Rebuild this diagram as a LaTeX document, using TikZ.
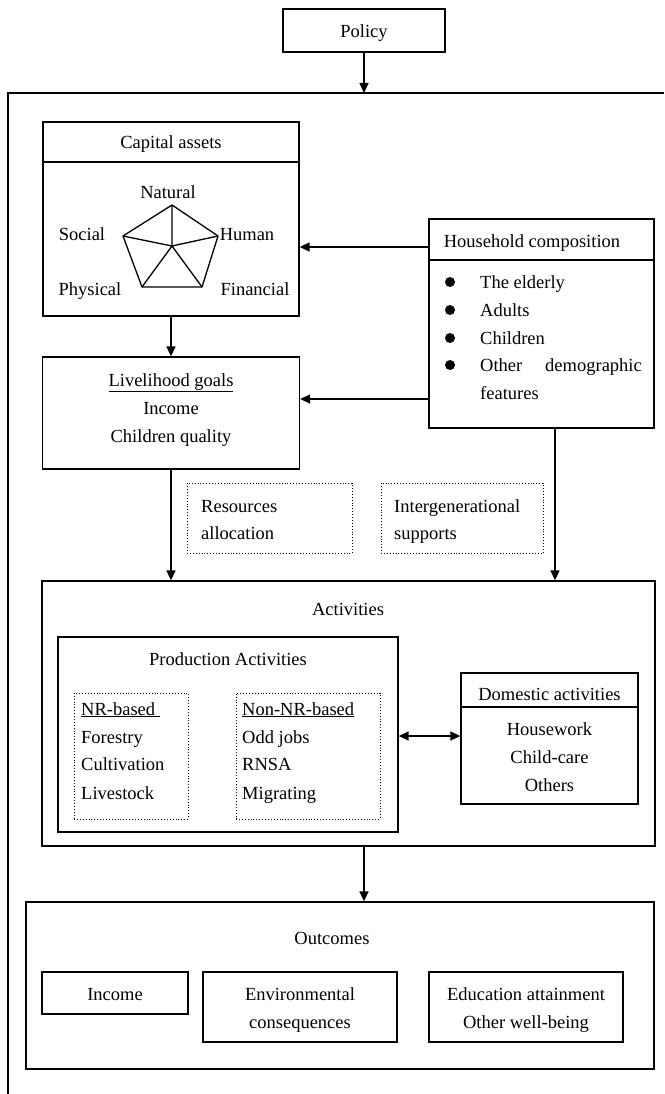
\documentclass[tikz,border=0pt]{standalone}
\usepackage{fontspec}
\setmainfont{Liberation Serif}
\usetikzlibrary{arrows.meta}
\begin{document}
\begin{tikzpicture}[x=1pt,y=-1pt,
  box/.style={draw, line width=1.3pt, inner sep=0pt},
  dotbox/.style={draw, line width=0.9pt, dotted, inner sep=0pt},
  arr/.style={line width=1.5pt, -{Triangle[length=10pt,width=9pt]}},
  darr/.style={line width=1.5pt, {Triangle[length=10pt,width=9pt]}-{Triangle[length=10pt,width=9pt]}},
  txt/.style={anchor=base, inner sep=0pt, font=\fontsize{18.5}{28}\selectfont},
  ltxt/.style={anchor=base west, inner sep=0pt, font=\fontsize{18.5}{28}\selectfont},
  bul/.style={circle, fill, inner sep=0pt, minimum size=10pt},
  pent/.style={line width=1.3pt, line join=round}]
\useasboundingbox (0,0) rectangle (664,1094);
\fill[white] (0,0) rectangle (664,1094);

% outer frame
\coordinate (ftop) at (364,93);
\coordinate (fright) at (664,93);
\coordinate (fleft) at (8,93);
\coordinate (fbot) at (8,1094);
\draw[line width=1.3pt] (fright) -- (fleft) -- (fbot);

% policy
\node[box, minimum width=162pt, minimum height=43pt] (policy) at (364,30.5) {};
\node[txt] (policyt) at (364,38) {Policy};
\draw[arr] (policy.south) -- (ftop);

% capital assets
\node[box, minimum width=256pt, minimum height=194pt] (cap) at (171,219) {};
\draw[line width=1.3pt] (cap.west |- 0,162) -- (cap.east |- 0,162);
\node[txt] (capt) at (171,149) {Capital assets};
\coordinate (pN) at (172,205);
\coordinate (pH) at (218,236);
\coordinate (pF) at (202,287);
\coordinate (pP) at (142,287);
\coordinate (pS) at (123,236);
\coordinate (pC) at (172,246);
\draw[pent] (pN) -- (pH) -- (pF) -- (pP) -- (pS) -- cycle;
\draw[pent] (pC) -- (pN) (pC) -- (pH) (pC) -- (pF) (pC) -- (pP) (pC) -- (pS);
\node[txt] (natural) at (168,198) {Natural};
\node[txt] (social) at (82,240) {Social};
\node[txt] (human) at (247,240) {Human};
\node[txt] (physical) at (90,295) {Physical};
\node[txt] (financial) at (255,295) {Financial};

% livelihood goals
\node[box, minimum width=257pt, minimum height=112pt] (live) at (171,413) {};
\node[txt] (livet1) at (171,386) {\underline{Livelihood goals}};
\node[txt] (livet2) at (171,414) {Income};
\node[txt] (livet3) at (171,442) {Children quality};
\draw[arr] (cap.south) -- (live.north);

% household composition
\node[box, minimum width=225pt, minimum height=209pt] (hh) at (541.5,323.5) {};
\draw[line width=1.3pt] (hh.west |- 0,260) -- (hh.east |- 0,260);
\node[txt] (hht) at (532,247) {Household composition};
\node[bul] (b1) at (450,282) {};
\node[bul] (b2) at (450,310) {};
\node[bul] (b3) at (450,338) {};
\node[bul] (b4) at (450,365) {};
\node[ltxt] (h1) at (480,288) {The elderly};
\node[ltxt] (h2) at (480,316) {Adults};
\node[ltxt] (h3) at (480,344) {Children};
\node[ltxt] (h4) at (480,371) {Other};
\node[anchor=base east, inner sep=0pt, font=\fontsize{18.5}{28}\selectfont] (h4b) at (642,371) {demographic};
\node[ltxt] (h5) at (480,399) {features};
\draw[arr] (hh.west |- 0,247) -- (cap.east |- 0,247);
\draw[arr] (hh.west |- 0,399) -- (live.east |- 0,399);

% dotted labels
\node[dotbox, minimum width=165pt, minimum height=70pt] (res) at (269.5,518) {};
\node[ltxt] (rest1) at (201,512) {Resources};
\node[ltxt] (rest2) at (201,539) {allocation};
\node[dotbox, minimum width=162pt, minimum height=70pt] (inter) at (462,518) {};
\node[ltxt] (intt1) at (394,512) {Intergenerational};
\node[ltxt] (intt2) at (394,539) {supports};

% activities
\node[box, minimum width=613pt, minimum height=265pt] (act) at (348.5,713.5) {};
\node[txt] (actt) at (348,615) {Activities};
\draw[arr] (live.south) -- (act.north -| live.south);
\draw[arr] (hh.south -| 555,0) -- (act.north -| 555,0);

\node[box, minimum width=340pt, minimum height=195pt] (prod) at (228,734.5) {};
\node[txt] (prodt) at (228,665) {Production Activities};
\node[dotbox, minimum width=114pt, minimum height=126pt] (nr) at (131,756) {};
\node[ltxt] (nr1) at (81,715) {\underline{NR-based\ }};
\node[ltxt] (nr2) at (81,743) {Forestry};
\node[ltxt] (nr3) at (81,770) {Cultivation};
\node[ltxt] (nr4) at (81,799) {Livestock};
\node[dotbox, minimum width=144pt, minimum height=126pt] (nonnr) at (308,756) {};
\node[ltxt] (nn1) at (242,715) {\underline{Non-NR-based}};
\node[ltxt] (nn2) at (242,743) {Odd jobs};
\node[ltxt] (nn3) at (242,770) {RNSA};
\node[ltxt] (nn4) at (242,799) {Migrating};

\node[box, minimum width=177pt, minimum height=131pt] (dom) at (549.5,738.5) {};
\draw[line width=1.3pt] (dom.west |- 0,707) -- (dom.east |- 0,707);
\node[txt] (domt) at (549.5,700) {Domestic activities};
\node[txt] (dom1) at (549.5,735) {Housework};
\node[txt] (dom2) at (549.5,763) {Child-care};
\node[txt] (dom3) at (549.5,791) {Others};
\draw[darr] (prod.east |- 0,736) -- (dom.west |- 0,736);

% outcomes
\node[box, minimum width=628pt, minimum height=167pt] (out) at (340,985.5) {};
\node[txt] (outt) at (332,944) {Outcomes};
\draw[arr] (act.south -| 364,0) -- (out.north -| 364,0);
\node[box, minimum width=146pt, minimum height=42pt] (inc) at (115,993) {};
\node[txt] (inct) at (115,1000) {Income};
\node[box, minimum width=194pt, minimum height=70pt] (env) at (300,1007) {};
\node[txt] (env1) at (300,1000) {Environmental};
\node[txt] (env2) at (300,1028) {consequences};
\node[box, minimum width=194pt, minimum height=70pt] (edu) at (526,1007) {};
\node[txt] (edu1) at (526,1000) {Education attainment};
\node[txt] (edu2) at (526,1028) {Other well-being};
\end{tikzpicture}
\end{document}
